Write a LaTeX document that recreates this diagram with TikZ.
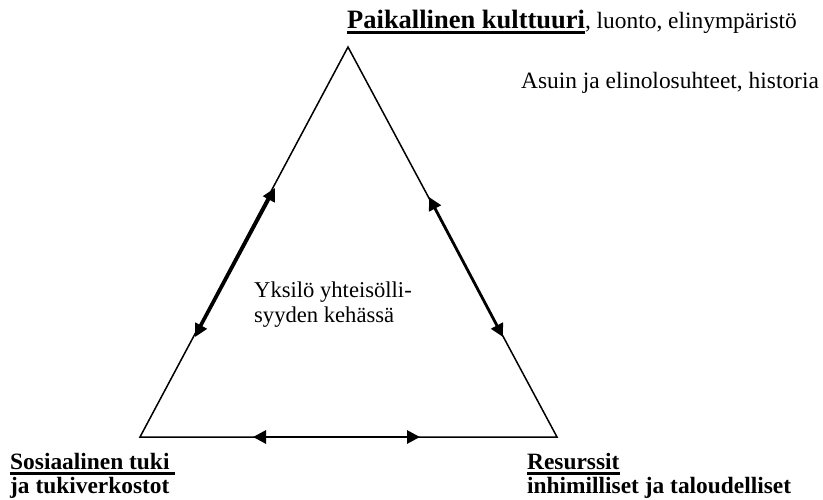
\documentclass[tikz,border=0pt]{standalone}
\usepackage{fontspec}
\setmainfont{Liberation Serif}
\usetikzlibrary{arrows.meta}
\newcommand{\thickul}[1]{\leavevmode\vtop{\hbox{#1}\kern3pt\hrule height 2.4pt}}
\begin{document}
\begin{tikzpicture}[x=1pt,y=-1pt,
  edge/.style={line width=1.5pt},
  dbl/.style={line width=2.8pt,{Triangle[length=13pt,width=13pt]}-{Triangle[length=13pt,width=13pt]}},
  lbl/.style={inner sep=0pt,anchor=base west,font=\fontsize{23.4}{26}\selectfont},
  mlbl/.style={inner sep=0pt,anchor=base west,font=\fontsize{22.6}{25}\selectfont},
  blbl/.style={lbl,font=\fontsize{23.4}{26}\selectfont\bfseries}]
\useasboundingbox (0,0) rectangle (823,499);
\coordinate (A) at (348,47);
\coordinate (B) at (140,437);
\coordinate (C) at (557,437);
\draw[edge,line join=miter] (A) -- (B) -- (C) -- cycle;
\coordinate (l1) at (275,188);
\coordinate (l2) at (195,337);
\coordinate (r1) at (429,197);
\coordinate (r2) at (503,337);
\coordinate (b1) at (253,437);
\coordinate (b2) at (420,437);
\draw[dbl] (l2) -- (l1);
\draw[dbl] (r1) -- (r2);
\draw[dbl] (b1) -- (b2);
\node[lbl] (top) at (347,28) {{\fontsize{26.5}{30}\selectfont\bfseries\thickul{Paikallinen kulttuuri}}, luonto, elinympäristö};
\node[lbl] (asuin) at (521,88) {Asuin ja elinolosuhteet, historia};
\node[mlbl] (mid1) at (254,297) {Yksilö yhteisölli-};
\node[mlbl] (mid2) at (254,322) {syyden kehässä};
\node[blbl] (sos1) at (10,469) {\thickul{Sosiaalinen tuki\ }};
\node[blbl] (sos2) at (10,493) {ja tukiverkostot};
\node[blbl] (res1) at (527,469) {\thickul{Resurssit}};
\node[blbl] (res2) at (527,493) {inhimilliset ja taloudelliset};
\end{tikzpicture}
\end{document}
